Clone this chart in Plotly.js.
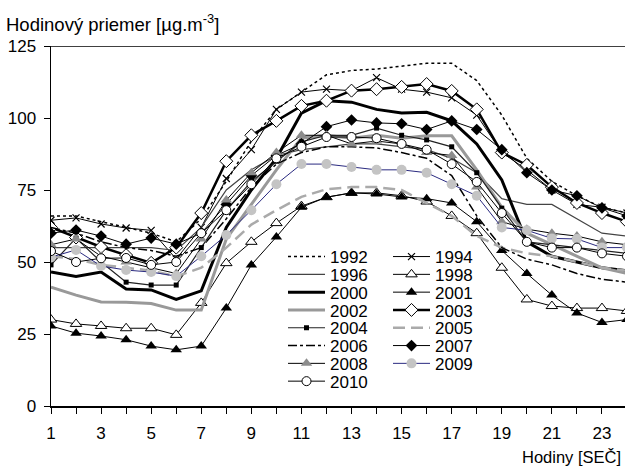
<!DOCTYPE html>
<html>
<head>
<meta charset="utf-8">
<script src="https://cdn.plot.ly/plotly-3.0.1.min.js"></script>
<style>html,body{margin:0;padding:0;background:#fff;}#chart{width:625px;height:468px;}</style>
</head>
<body>
<div id="chart"></div>
<script>
const hours = [1,2,3,4,5,6,7,8,9,10,11,12,13,14,15,16,17,18,19,20,21,22,23,24];
const xTickLabels = ['1','3','5','7','9','11','13','15','17','19','21','23'];
const y1992 = [66,66,64,62,60,57,65,78,92,103,109,115,116.5,117,118,119,119,113,101,86,78,73,69,67];
const y1994 = [64.5,65.3,63.2,61.8,61,51,62,79,89,103,109,110,109.5,114,110,109,107,101,88,82,75,70,69,67];
const y1996 = [55,55,55,55,55,54,62,75,82,87,89,90,91,91,90,89,86,81,72,70,70,65,60,59];
const y1998 = [30,28.5,27.8,27,27,24.7,35.8,49.6,57,63.5,69.4,72.5,74,74,73,71,66,60,48,37,34.7,34,34,33];
const y2000 = [46.5,45,46.5,40.6,40.3,37,40,62,75,86,101.7,106,105.5,103,101.7,102,99,91,78.5,57,52,50,48,47];
const y2001 = [27.8,25.3,24.3,23,20.8,19.5,20.8,34,49,58.7,69,72.5,74,73.6,72.6,72,70.5,64,54,46,38.5,32.3,29,30];
const y2002 = [41.3,38.5,36.1,36,35.6,33.3,33.3,58,70,82,93,94,93,94,93,93.8,93.8,82,69,60,56,52,48,46];
const y2003 = [62,58.5,55.2,52.4,49.7,55,67,85,94,99,104.2,106,109.5,110,110.8,111.8,109.4,103,88,83.7,76,70.5,67,64];
const y2004 = [49,58.3,50,43,42,42,55,68,78,85,91.7,94,94,96.5,94,92.4,90,81,68.7,57,56,55,54,53];
const y2005 = [52,51,49,48,47,45,48,55,63,68,72.6,75.3,76,76,75,70.5,66,59,55,53,52,50,48,47];
const y2006 = [62,60,57,55,54,52,55,65,76,84,88,90,90,89.6,88,86,80,66,55,51,49,46,44,43];
const y2007 = [60,61.1,59,56.2,58.3,56.2,60,70,80,87,91,97,99.3,98.3,98,96,99,96,89,81,75,73,68.8,66];
const y2008 = [56,58,52,50,48,46,58,71.5,81,88,94,94,91,92,91,88,87,76,64,61.4,60,59,57,56];
const y2009 = [51.7,54.2,48.6,47.2,46.5,45.1,52,59.4,68,77,84,84,83,82,82,81,77,73,62,61,58.2,58,55,55];
const y2010 = [53.8,50,51.3,51.4,49,50,60,68,77,86,90,93.4,93.4,93,91,89,84,77.8,67,57,55,55,53,52];

const blk = '#000';
function tr(name, y, line, marker, legend) {
  const t = {x: hours, y: y, name: name, type: 'scatter', line: line,
    mode: marker ? 'lines+markers' : 'lines', legend: legend};
  if (marker) t.marker = marker;
  return t;
}
const openM = (sym, size) => ({symbol: sym, size: size, color: '#fff', line: {color: blk, width: 1}});
const fillM = (sym, size, col) => ({symbol: sym, size: size, color: col || blk, line: {color: col || blk, width: 0}});

const traces = [
  tr('1992', y1992, {color: blk, width: 1.5, dash: 'dot'}, null, 'legend'),
  tr('1994', y1994, {color: blk, width: 1}, {symbol: 'x-thin', size: 7, color: blk, line: {color: blk, width: 1.2}}, 'legend'),
  tr('1996', y1996, {color: '#444', width: 1.2}, null, 'legend2'),
  tr('1998', y1998, {color: blk, width: 1}, openM('triangle-up', 10), 'legend2'),
  tr('2000', y2000, {color: blk, width: 3}, null, 'legend3'),
  tr('2001', y2001, {color: blk, width: 1}, fillM('triangle-up', 10), 'legend3'),
  tr('2002', y2002, {color: '#999', width: 3}, null, 'legend4'),
  tr('2003', y2003, {color: blk, width: 2.5}, openM('diamond', 10), 'legend4'),
  tr('2004', y2004, {color: '#222', width: 1.2}, fillM('square', 5), 'legend5'),
  tr('2005', y2005, {color: '#aaa', width: 2.5, dash: '12px,6px'}, null, 'legend5'),
  tr('2006', y2006, {color: blk, width: 1.5, dash: 'dashdot'}, null, 'legend6'),
  tr('2007', y2007, {color: blk, width: 1}, fillM('diamond', 9), 'legend6'),
  tr('2008', y2008, {color: blk, width: 1}, fillM('triangle-up', 10, '#8c8c8c'), 'legend7'),
  tr('2009', y2009, {color: '#2a2a80', width: 1}, fillM('circle', 10, '#c4c4c4'), 'legend7'),
  tr('2010', y2010, {color: blk, width: 1}, openM('circle', 9), 'legend8')
];

const font = {family: 'Liberation Sans, Arial, sans-serif', size: 17, color: '#000'};
const legFont = {family: 'Liberation Sans, Arial, sans-serif', size: 17, color: '#000'};
const layout = {
  width: 625, height: 468,
  margin: {l: 51, r: 0, t: 46, b: 62},
  paper_bgcolor: '#fff', plot_bgcolor: '#fff',
  font: font,
  showlegend: true,
  xaxis: {
    range: [1, 23.92], tickmode: 'array',
    tickvals: xTickLabels.map(Number), ticktext: xTickLabels,
    ticks: 'outside', ticklen: 6, tickcolor: '#000', tickwidth: 1,
    minor: {tickmode: 'linear', tick0: 1, dtick: 1, ticks: 'outside', ticklen: 6, tickcolor: '#000', tickwidth: 1},
    showline: true, linecolor: '#000', linewidth: 1.5, showgrid: false, zeroline: false,
    ticklabelstandoff: 5, tickfont: font
  },
  yaxis: {
    range: [0, 125], tickvals: [0,25,50,75,100,125],
    ticks: 'outside', ticklen: 6, tickcolor: '#000', tickwidth: 1,
    showline: true, linecolor: '#000', linewidth: 1.5, showgrid: false, zeroline: false,
    ticklabelstandoff: 4, tickfont: font
  },
  shapes: [{type: 'line', xref: 'paper', yref: 'y', x0: 0, x1: 1, y0: 125, y1: 125,
    line: {color: '#000', width: 1.5}}],
  annotations: [
    {text: 'Hodinový priemer [µg.m<sup>-3</sup>]', xref: 'paper', yref: 'paper',
     x: -0.082, y: 1.026, xanchor: 'left', yanchor: 'bottom', showarrow: false, font: {family: font.family, size: 18.5, color: '#000'}},
    {text: 'Hodiny [SEČ]', xref: 'paper', yref: 'paper',
     x: 0.996, y: -0.112, xanchor: 'right', yanchor: 'top', showarrow: false,
     font: {family: font.family, size: 16.5, color: '#000'}}
  ]
};
const legNames = ['legend','legend2','legend3','legend4','legend5','legend6','legend7','legend8'];
legNames.forEach((n, k) => {
  const yc = 257 + 17.8 * k;
  layout[n] = {orientation: 'h', x: (283 - 51) / 574, y: (406 - yc) / 360,
    xanchor: 'left', yanchor: 'middle', bgcolor: 'rgba(0,0,0,0)',
    font: legFont, itemwidth: 37, entrywidth: 53, entrywidthmode: 'pixels', traceorder: 'normal'};
});
Plotly.newPlot('chart', traces, layout, {displayModeBar: false, staticPlot: true});
</script>
</body>
</html>
